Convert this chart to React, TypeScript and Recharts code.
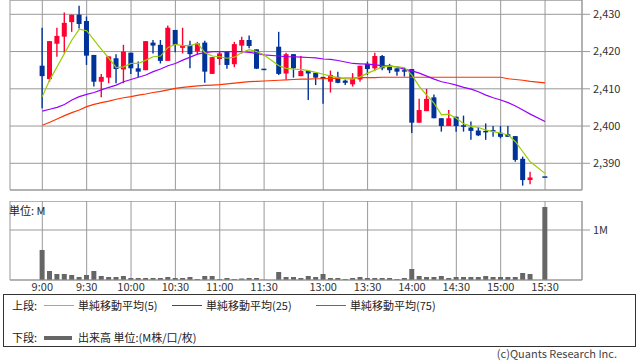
import {
  Bar,
  CartesianGrid,
  ComposedChart,
  Line,
  ReferenceLine,
  XAxis,
  YAxis,
} from "recharts";

const FONT = '"Noto Sans CJK JP", "Noto Sans", sans-serif';
const GRID = "#999999";
const UP = "#ff0033";
const DOWN = "#003399";
const MA5_COLOR = "#99cc00";
const MA25_COLOR = "#9900ff";
const MA75_COLOR = "#ff3300";
const VOL_COLOR = "#666666";

// 5-minute bars, 9:00 - 11:30 and 12:30 - 15:30 (no 15:25 bar)
const times = [
  "9:00", "9:05", "9:10", "9:15", "9:20", "9:25", "9:30", "9:35", "9:40", "9:45",
  "9:50", "9:55", "10:00", "10:05", "10:10", "10:15", "10:20", "10:25", "10:30", "10:35",
  "10:40", "10:45", "10:50", "10:55", "11:00", "11:05", "11:10", "11:15", "11:20", "11:25",
  "11:30",
  "12:30", "12:35", "12:40", "12:45", "12:50", "12:55", "13:00", "13:05", "13:10", "13:15",
  "13:20", "13:25", "13:30", "13:35", "13:40", "13:45", "13:50", "13:55", "14:00", "14:05",
  "14:10", "14:15", "14:20", "14:25", "14:30", "14:35", "14:40", "14:45", "14:50", "14:55",
  "15:00", "15:05", "15:10", "15:15", "15:20", "15:30",
];

const opens = [
  2416.2, 2412.6, 2422.1, 2424.0, 2427.9, 2429.9, 2428.2, 2419.1, 2411.9, 2413.0,
  2418.2, 2415.2, 2419.7, 2415.5, 2415.0, 2422.4, 2421.8, 2417.5, 2425.8, 2421.0,
  2421.8, 2420.0, 2422.4, 2414.0, 2418.0, 2420.0, 2416.6, 2421.6, 2423.1, 2420.6,
  2415.2,
  2421.3, 2414.1, 2419.3, 2413.4, 2414.8, 2414.3, 2413.2, 2411.9, 2413.2, 2412.2,
  2411.2, 2412.5, 2416.7, 2415.5, 2418.8, 2416.2, 2415.5, 2414.8, 2415.3, 2400.9,
  2404.0, 2407.7, 2402.1, 2400.0, 2402.5, 2400.0, 2399.6, 2398.8, 2398.5, 2398.7,
  2398.2, 2397.8, 2397.3, 2391.2, 2385.5, 2386.3,
];

const highs = [
  2426.4, 2422.8, 2426.4, 2430.5, 2429.9, 2432.3, 2429.4, 2419.1, 2414.0, 2418.7,
  2419.3, 2421.8, 2419.7, 2417.3, 2422.8, 2423.1, 2423.1, 2427.0, 2425.8, 2426.4,
  2422.9, 2422.6, 2422.9, 2418.5, 2420.0, 2420.0, 2422.6, 2424.0, 2424.3, 2420.6,
  2415.2,
  2425.3, 2419.7, 2419.3, 2418.8, 2414.8, 2414.3, 2413.2, 2414.9, 2414.6, 2412.5,
  2414.2, 2416.2, 2417.3, 2419.7, 2419.1, 2416.7, 2415.5, 2415.7, 2415.3, 2407.3,
  2410.0, 2408.5, 2402.1, 2404.3, 2402.5, 2402.8, 2401.2, 2399.6, 2400.7, 2400.0,
  2400.0, 2400.0, 2397.3, 2391.8, 2387.7, 2386.3,
];

const lows = [
  2404.8, 2411.9, 2418.6, 2419.7, 2425.3, 2426.2, 2416.4, 2410.6, 2407.7, 2411.5,
  2411.5, 2411.5, 2414.0, 2413.2, 2415.0, 2419.5, 2416.8, 2417.5, 2419.8, 2419.5,
  2415.5, 2419.1, 2411.6, 2414.0, 2416.4, 2415.4, 2415.8, 2419.5, 2420.9, 2415.3,
  2415.2,
  2413.7, 2412.5, 2413.0, 2413.4, 2407.0, 2411.0, 2406.0, 2409.0, 2411.5, 2411.0,
  2410.6, 2411.9, 2413.7, 2415.0, 2415.0, 2414.2, 2413.5, 2413.3, 2398.1, 2400.9,
  2404.0, 2402.1, 2398.5, 2400.0, 2398.5, 2398.5, 2396.3, 2397.3, 2396.3, 2397.1,
  2396.7, 2397.1, 2390.4, 2384.0, 2384.4, 2386.3,
];

const closes = [
  2413.4, 2422.8, 2424.2, 2427.7, 2429.9, 2427.4, 2418.9, 2411.9, 2413.2, 2418.7,
  2415.3, 2420.0, 2415.5, 2414.6, 2422.8, 2421.6, 2417.5, 2426.4, 2421.8, 2421.6,
  2419.3, 2422.2, 2414.6, 2418.5, 2419.5, 2416.4, 2422.0, 2423.1, 2421.5, 2415.4,
  2415.2,
  2414.0, 2419.3, 2415.5, 2414.8, 2414.1, 2413.0, 2412.7, 2413.7, 2411.6, 2411.6,
  2412.7, 2416.2, 2415.3, 2418.8, 2415.5, 2415.0, 2414.6, 2414.8, 2400.9, 2404.3,
  2407.3, 2402.1, 2400.0, 2402.1, 2400.0, 2400.0, 2398.7, 2397.5, 2398.5, 2398.7,
  2397.1, 2397.1, 2390.9, 2385.5, 2386.2, 2386.3,
];

const ma5 = [
  2407.9, 2412.4, 2415.9, 2419.5, 2423.1, 2426.0, 2425.6, 2423.1, 2420.6, 2418.2,
  2415.7, 2415.9, 2416.8, 2416.8, 2417.7, 2418.6, 2418.8, 2421.1, 2421.9, 2421.6,
  2421.6, 2422.2, 2419.7, 2418.8, 2418.6, 2418.2, 2418.5, 2419.8, 2420.5, 2420.0,
  2419.1,
  2416.2, 2415.5, 2415.3, 2415.2, 2414.9, 2414.4, 2413.9, 2413.4, 2413.0, 2412.7,
  2412.6, 2413.2, 2414.2, 2415.0, 2415.9, 2416.1, 2415.9, 2415.7, 2413.7, 2410.6,
  2408.3, 2406.1, 2403.0, 2403.2, 2402.1, 2400.6, 2400.0, 2399.6, 2398.9, 2398.5,
  2398.1, 2397.6, 2395.8, 2393.1, 2390.4, 2387.3,
];

const ma25 = [
  2404.0, 2404.5, 2405.0, 2405.8, 2407.0, 2407.9, 2408.5, 2409.0, 2409.7, 2410.4,
  2411.0, 2411.9, 2412.5, 2413.1, 2413.7, 2414.6, 2415.3, 2416.2, 2416.8, 2417.7,
  2418.5, 2419.3, 2419.7, 2420.0, 2420.0, 2420.0, 2420.0, 2420.0, 2419.8, 2419.5,
  2419.1,
  2418.8, 2418.6, 2418.6, 2418.5, 2418.4, 2418.3, 2418.0, 2417.9, 2417.6, 2417.2,
  2416.8, 2416.7, 2416.6, 2416.4, 2416.2, 2416.1, 2415.9, 2415.2, 2414.8, 2414.2,
  2413.4, 2412.6, 2411.9, 2411.5, 2411.0, 2410.4, 2409.9, 2409.2, 2408.3, 2407.6,
  2407.0, 2406.3, 2405.4, 2404.3, 2403.2, 2401.2,
];

const ma75 = [
  2400.2, 2401.0, 2401.9, 2402.8, 2403.6, 2404.3, 2405.2, 2405.8, 2406.3, 2406.7,
  2407.2, 2407.6, 2407.9, 2408.3, 2408.6, 2409.0, 2409.3, 2409.7, 2410.1, 2410.4,
  2410.6, 2410.8, 2410.9, 2411.0, 2411.1, 2411.3, 2411.5, 2411.7, 2411.9, 2412.0,
  2412.1,
  2412.3, 2412.4, 2412.5, 2412.6, 2412.6, 2412.7, 2412.7, 2412.8, 2412.8, 2412.9,
  2412.9, 2413.0, 2413.0, 2413.0, 2413.1, 2413.1, 2413.1, 2413.1, 2413.1, 2413.1,
  2413.1, 2413.1, 2413.1, 2413.1, 2413.1, 2413.1, 2413.1, 2413.1, 2413.1, 2413.1,
  2413.1, 2412.7, 2412.5, 2412.3, 2412.0, 2411.6,
];

// 出来高 (M)
const volumes = [
  0.6, 0.18, 0.12, 0.12, 0.1, 0.06, 0.1, 0.18, 0.08, 0.06,
  0.06, 0.08, 0.04, 0.04, 0.04, 0.04, 0.04, 0.06, 0.04, 0.04,
  0.06, 0.02, 0.08, 0.08, 0.02, 0.04, 0.02, 0.03, 0.04, 0.04,
  0.005,
  0.16, 0.06, 0.06, 0.04, 0.08, 0.06, 0.12, 0.04, 0.04, 0.02,
  0.04, 0.06, 0.04, 0.04, 0.04, 0.04, 0.02, 0.04, 0.22, 0.08,
  0.06, 0.06, 0.08, 0.04, 0.06, 0.06, 0.06, 0.06, 0.08, 0.06,
  0.06, 0.06, 0.06, 0.14, 0.12, 1.46,
];

const tickLabels = [
  "9:00", "9:30", "10:00", "10:30", "11:00", "11:30",
  "13:00", "13:30", "14:00", "14:30", "15:00", "15:30",
];
const priceTicks = [2390, 2400, 2410, 2420, 2430];
const volumeTicks = [1];

const legendItems = [
  { label: "単純移動平均(5)", color: MA5_COLOR, left: 43 },
  { label: "単純移動平均(25)", color: MA25_COLOR, left: 171 },
  { label: "単純移動平均(75)", color: MA75_COLOR, left: 315 },
];

// lunch break squeezed to a single empty slot
function slotOf(t: string) {
  const [hh, mm] = t.split(":").map(Number);
  const m = hh * 60 + mm;
  return m <= 690 ? (m - 540) / 5 : (m - 750) / 5 + 32;
}

const rows = times.map((t, i) => ({
  slot: slotOf(t),
  o: opens[i],
  h: highs[i],
  l: lows[i],
  c: closes[i],
  ma5: ma5[i],
  ma25: ma25[i],
  ma75: ma75[i],
  vol: volumes[i],
}));

const tickSlots = tickLabels.map(slotOf);
const labelBySlot: Record<number, string> = Object.fromEntries(
  tickLabels.map((t) => [slotOf(t), t])
);

const X_DOMAIN: [number, number] = [-4.37, 73.0];
const PRICE_DOMAIN: [number, number] = [2382.83, 2433.84];
const VOL_MAX = 1.58;

const tickStyle = { fill: "#333", fontSize: 11, fontFamily: FONT };

function renderCandle(props: any) {
  const { x, y, width, height, payload } = props;
  const { o, h, l, c } = payload;
  const span = h - l;
  const toY = (v: number) => (span > 0 ? y + ((h - v) / span) * height : y);
  const color = c > o ? UP : DOWN;
  const mid = x + width / 2;
  let top = toY(Math.max(o, c));
  let bottom = toY(Math.min(o, c));
  if (bottom - top < 1.5) {
    const m = (top + bottom) / 2;
    top = m - 0.75;
    bottom = m + 0.75;
  }
  return (
    <g>
      <line x1={mid} x2={mid} y1={y} y2={y + height} stroke={color} strokeWidth={1.4} />
      <rect x={x} y={top} width={width} height={bottom - top} fill={color} />
    </g>
  );
}

export default function App() {
  return (
    <div
      style={{
        position: "fixed",
        left: 0,
        top: 0,
        width: 638,
        height: 362,
        background: "#fff",
        fontFamily: FONT,
        overflow: "hidden",
      }}
    >
      <div style={{ position: "absolute", left: 0, top: 0 }}>
        <ComposedChart
          width={638}
          height={191}
          data={rows}
          margin={{ top: 0, right: 0, bottom: 1, left: 10 }}
        >
          <CartesianGrid stroke={GRID} />
          <XAxis
            dataKey="slot"
            type="number"
            domain={X_DOMAIN}
            ticks={tickSlots}
            allowDataOverflow
            hide
          />
          <YAxis
            orientation="right"
            domain={PRICE_DOMAIN}
            ticks={priceTicks}
            allowDataOverflow
            width={56}
            tickSize={8}
            tickMargin={3}
            axisLine={{ stroke: GRID }}
            tickLine={{ stroke: GRID }}
            tick={tickStyle}
            tickFormatter={(v: number) => v.toLocaleString("en-US")}
          />
          <ReferenceLine y={PRICE_DOMAIN[1]} stroke={GRID} />
          <ReferenceLine y={PRICE_DOMAIN[0]} stroke={GRID} />
          <Bar
            dataKey={(d: any) => [d.l, d.h]}
            barSize={5}
            shape={renderCandle}
            isAnimationActive={false}
          />
          <Line dataKey="ma75" type="linear" stroke={MA75_COLOR} strokeWidth={1.2} dot={false} isAnimationActive={false} />
          <Line dataKey="ma25" type="linear" stroke={MA25_COLOR} strokeWidth={1.2} dot={false} isAnimationActive={false} />
          <Line dataKey="ma5" type="linear" stroke={MA5_COLOR} strokeWidth={1.2} dot={false} isAnimationActive={false} />
        </ComposedChart>
      </div>

      <div style={{ position: "absolute", left: 0, top: 201 }}>
        <ComposedChart
          width={638}
          height={99}
          data={rows}
          margin={{ top: 0, right: 0, bottom: 0, left: 10 }}
        >
          <CartesianGrid stroke={GRID} />
          <XAxis
            dataKey="slot"
            type="number"
            domain={X_DOMAIN}
            ticks={tickSlots}
            interval={0}
            allowDataOverflow
            height={20}
            tickSize={0}
            tickMargin={3}
            axisLine={{ stroke: GRID }}
            tick={tickStyle}
            tickFormatter={(v: number) => labelBySlot[v] ?? ""}
          />
          <YAxis
            orientation="right"
            domain={[0, VOL_MAX]}
            ticks={volumeTicks}
            allowDataOverflow
            width={56}
            tickSize={8}
            tickMargin={3}
            axisLine={{ stroke: GRID }}
            tickLine={{ stroke: GRID }}
            tick={tickStyle}
            tickFormatter={(v: number) => `${v}M`}
          />
          <ReferenceLine y={VOL_MAX} stroke={GRID} />
          <Bar dataKey="vol" barSize={5} fill={VOL_COLOR} isAnimationActive={false} />
        </ComposedChart>
      </div>

      <div style={{ position: "absolute", left: 9, top: 202, fontSize: 11, color: "#222" }}>
        単位: M
      </div>

      <div
        style={{
          position: "absolute",
          left: 3,
          top: 294,
          width: 631,
          height: 51,
          border: "1px solid #333",
          fontSize: 11,
          color: "#222",
        }}
      >
        <span style={{ position: "absolute", left: 8, top: 2 }}>上段:</span>
        {legendItems.map((item) => (
          <div key={item.label}>
            <div
              style={{
                position: "absolute",
                left: item.left - 3,
                top: 10,
                width: 30,
                height: 1,
                background: item.color,
              }}
            />
            <span style={{ position: "absolute", left: item.left + 31, top: 2 }}>
              {item.label}
            </span>
          </div>
        ))}
        <span style={{ position: "absolute", left: 8, top: 34 }}>下段:</span>
        <div
          style={{
            position: "absolute",
            left: 40,
            top: 41,
            width: 28,
            height: 4,
            background: VOL_COLOR,
          }}
        />
        <span style={{ position: "absolute", left: 74, top: 34 }}>出来高 単位:(M株/口/枚)</span>
      </div>

      <div
        style={{
          position: "absolute",
          right: 21,
          top: 346,
          fontSize: 11,
          lineHeight: "14px",
          color: "#444",
        }}
      >
        (c)Quants Research Inc.
      </div>
    </div>
  );
}
